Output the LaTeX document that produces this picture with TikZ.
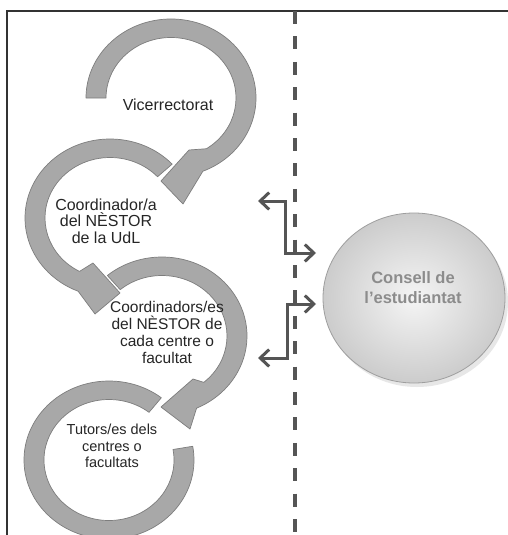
\documentclass[tikz,border=0pt]{standalone}
\usepackage{fontspec}
\setmainfont{Liberation Sans}
\usetikzlibrary{arrows.meta,shapes.geometric}
\definecolor{arcgray}{RGB}{168,168,168}
\definecolor{arcedge}{RGB}{125,125,125}
\definecolor{conngray}{RGB}{85,85,85}
\begin{document}
\begin{tikzpicture}[x=1pt,y=-1pt,
  arcband/.style={fill=arcgray, draw=arcedge, line width=0.7pt, line join=round},
  lbl/.style={align=center, text=black!85, inner sep=0pt},
  conn/.style={draw=conngray, line width=3pt,
    {Straight Barb[length=9pt,width=17pt]}-{Straight Barb[length=9pt,width=17pt]}},
  divider/.style={draw=conngray, line width=3.5pt, dash pattern=on 13pt off 12.4pt},
  frameline/.style={draw=black!80, line width=1.6pt}]
\clip (0,0) rectangle (508,535);
\fill[white] (0,0) rectangle (508,535);
\draw[frameline] (7,536) -- (7,11) -- (509,11);

% divider
\coordinate (dtop) at (295,11);
\coordinate (dbot) at (295,535);
\draw[divider] (dtop) -- (dbot);

% centres of the circular arrows
\coordinate (c1) at (171,98);
\coordinate (c2) at (110,218);
\coordinate (c3) at (162,336);
\coordinate (c4) at (109,460);

% arc 4
\path[arcband] ([shift={(308:85 and 79)}]c4)
  arc[start angle=308, end angle=-10, x radius=85, y radius=79]
  -- ([shift={(-10:65 and 60.5)}]c4)
  arc[start angle=-10, end angle=308, x radius=65, y radius=60.5] -- cycle;
% arc 3
\path[arcband] ([shift={(230:85 and 79)}]c3)
  arc[start angle=230, end angle=426, x radius=85, y radius=79]
  -- (190,429) -- (161,407) -- (193,379)
  -- ([shift={(410:65 and 60.5)}]c3)
  arc[start angle=410, end angle=230, x radius=65, y radius=60.5] -- cycle;
% arc 2
\path[arcband] ([shift={(317:85 and 79)}]c2)
  arc[start angle=317, end angle=112, x radius=85, y radius=79]
  -- (95,314) -- (120,293) -- (93,263)
  -- ([shift={(118:65 and 60.5)}]c2)
  arc[start angle=118, end angle=317, x radius=65, y radius=60.5] -- cycle;
% arc 1
\path[arcband] ([shift={(180:85 and 79)}]c1)
  arc[start angle=180, end angle=428, x radius=85, y radius=79]
  -- (183,204) -- (161,181) -- (189,150)
  -- ([shift={(417:65 and 60.5)}]c1)
  arc[start angle=417, end angle=180, x radius=65, y radius=60.5] -- cycle;

% labels
\node[lbl, font=\fontsize{16}{17}\selectfont] (vice) at (168,105) {Vicerrectorat};
\node[lbl, font=\fontsize{16}{16.5}\selectfont] (coordudl) at (106,221) {Coordinador/a\\del NÈSTOR\\de la UdL};
\node[lbl, font=\fontsize{15.5}{17}\selectfont] (coordcentre) at (167,332) {Coordinadors/es\\del NÈSTOR de\\cada centre o\\facultat};
\node[lbl, font=\fontsize{14.5}{16.5}\selectfont] (tutors) at (112,446) {Tutors/es dels\\centres o\\facultats};

% consell
\fill[black!30, opacity=0.3] (417,302) ellipse [x radius=91, y radius=85];
\node[ellipse, minimum width=182pt, minimum height=170pt, draw=black!38, line width=0.8pt,
  inner color=black!4, outer color=black!20] (consell) at (414,298) {};
\node[font=\bfseries\fontsize{16.5}{20}\selectfont, text=black!45, align=center, inner sep=0pt]
  (consellText) at (413,288) {Consell de\\l’estudiantat};

% connectors
\coordinate (ua) at (258,201);
\coordinate (ubend) at (285,227);
\coordinate (ub) at (316,253);
\draw[conn] (ua) -| (ubend) |- (ub);
\coordinate (la) at (316,304);
\coordinate (lbend) at (287,331);
\coordinate (lb) at (258,358);
\draw[conn] (la) -| (lbend) |- (lb);
\end{tikzpicture}
\end{document}
